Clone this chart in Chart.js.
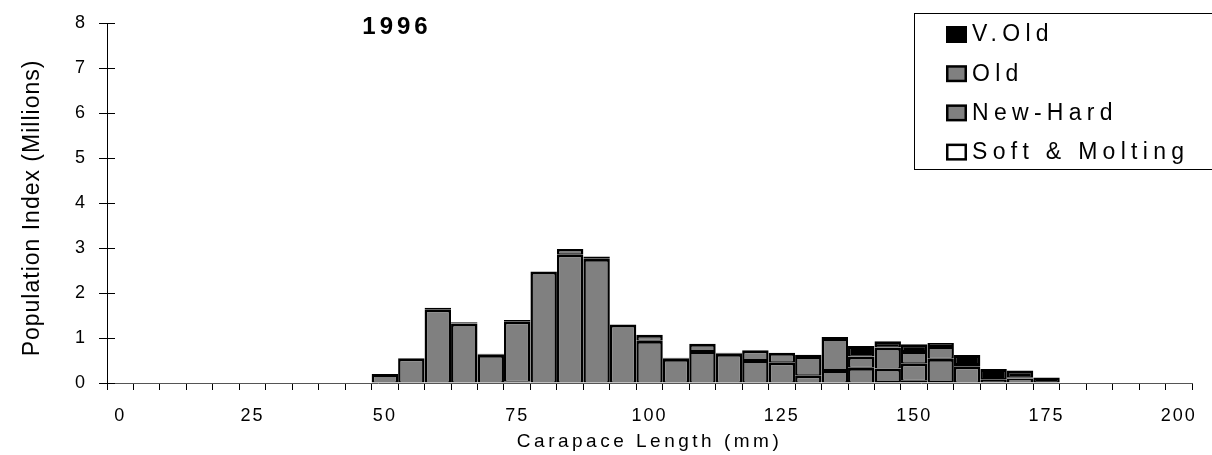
<!DOCTYPE html>
<html>
<head>
<meta charset="utf-8">
<script src="https://cdn.jsdelivr.net/npm/chart.js@4"></script>
<style>
  body { margin: 0; background: #fff; }
  canvas { display: block; }
</style>
</head>
<body>
<canvas id="mychart" width="1212" height="455"></canvas>
<script>
// 5 mm carapace length bins, 0..200
const Bins=["0","5","10","15","20","25","30","35","40","45","50","55","60","65","70","75","80","85","90","95","100",
            "105","110","115","120","125","130","135","140","145","150","155","160","165","170","175","180","185","190","195","200"]

// population index (millions) per shell condition
const SoftMolting=[0,0,0,0,0,0,0,0,0,0, 0,0,0,0,0,0.03,0,0,0,0, 0,0,0,0,0,0,0,0,0,0.02, 0.05,0.02,0,0,0,0,0,0,0,0,0]
const NewHard=[0,0,0,0,0,0,0,0,0,0, 0.2,0.55,1.64,1.32,0.63,1.34,2.48,2.86,2.76,1.3, 0.94,0.54,0.71,0.65,0.51,0.46,0.17,0.29,0.34,0.3, 0.39,0.52,0.37,0.07,0.1,0,0,0,0,0,0]
const Old=[0,0,0,0,0,0,0,0,0,0, 0,0,0.03,0.03,0.02,0.03,0,0.12,0.05,0, 0.13,0.02,0.16,0.02,0.22,0.21,0.43,0.71,0.25,0.47, 0.27,0.28,0.05,0.02,0.03,0,0,0,0,0,0]
const VOld=[0,0,0,0,0,0,0,0,0,0, 0,0,0,0,0,0,0,0,0,0, 0,0,0,0,0,0,0.03,0.02,0.23,0.14, 0.15,0.07,0.2,0.22,0.15,0.12,0,0,0,0,0]

const FONT="'Liberation Sans', Arial, sans-serif"
const barBorder={top:3,bottom:1,left:2.5,right:2.5}

function series(label,data,fill){
    return {
        label:label,
        data:data,
        backgroundColor:fill,
        borderColor:"#000",
        borderWidth:barBorder,
        borderSkipped:false,
        inflateAmount:0,
        barPercentage:1,
        categoryPercentage:1,
    }
}

// wide letter spacing on axis tick text
const spacing={
    id:"spacing",
    beforeLayout(chart){ chart.ctx.letterSpacing="2px" },
    beforeDraw(chart){ chart.ctx.letterSpacing="2px" },
}

// titles, boxed legend and inner half of the y ticks
const decorations={
    id:"decorations",
    afterDraw(chart){
        const ctx=chart.ctx
        const area=chart.chartArea
        const y=chart.scales.y
        ctx.save()

        ctx.strokeStyle="#000"
        ctx.lineWidth=1
        y.ticks.forEach(t=>{
            const py=Math.round(y.getPixelForValue(t.value))+0.5
            ctx.beginPath()
            ctx.moveTo(area.left,py)
            ctx.lineTo(area.left+8,py)
            ctx.stroke()
        })

        ctx.fillStyle="#000"
        ctx.textAlign="center"
        ctx.textBaseline="middle"

        ctx.letterSpacing="4px"
        ctx.font="bold 24px "+FONT
        ctx.fillText("1996",397,27)

        ctx.letterSpacing="3.5px"
        ctx.font="19px "+FONT
        ctx.fillText("Carapace Length (mm)",(area.left+area.right)/2,442)

        ctx.letterSpacing="1px"
        ctx.font="23px "+FONT
        ctx.save()
        ctx.translate(33,208)
        ctx.rotate(-Math.PI/2)
        ctx.fillText("Population Index (Millions)",0,0)
        ctx.restore()

        // legend box, top entry is the top of the stack
        ctx.strokeStyle="#000"
        ctx.lineWidth=1
        ctx.strokeRect(914.5,13.5,310,156)
        ctx.textAlign="left"
        ctx.letterSpacing="5.3px"
        ctx.font="23px "+FONT
        const sets=chart.data.datasets.slice().reverse()
        sets.forEach((ds,i)=>{
            const cy=34+i*39.2
            ctx.fillStyle="#000"
            ctx.fillRect(946,cy-8,21,17)
            ctx.fillStyle=ds.backgroundColor
            ctx.fillRect(948.5,cy-5.5,16,12)
            ctx.fillStyle="#000"
            ctx.fillText(ds.label,972,cy+1)
        })
        ctx.restore()
    }
}

new Chart("mychart",{
    type:"bar",
    data:{
        labels:Bins,
        datasets:[
            series("Soft & Molting",SoftMolting,"#ffffff"),
            series("New-Hard",NewHard,"#808080"),
            series("Old",Old,"#808080"),
            series("V.Old",VOld,"#000000"),
        ],
    },
    options:{
        responsive:false,
        animation:false,
        layout:{padding:{top:23,right:12,left:0,bottom:0}},
        plugins:{
            legend:{display:false},
            tooltip:{enabled:false},
        },
        scales:{
            x:{
                stacked:true,
                offset:true,
                afterFit(scale){ scale.height=72 },
                grid:{offset:true,drawOnChartArea:false,drawTicks:true,tickLength:7,color:"#000"},
                border:{display:true,color:"#555",width:1},
                ticks:{
                    autoSkip:false,
                    maxRotation:0,
                    padding:15,
                    color:"#000",
                    font:{family:FONT,size:18},
                    callback:(v,i)=>i%5===0?Bins[i]:"",
                },
            },
            y:{
                stacked:true,
                min:0,
                max:8,
                afterFit(scale){ scale.width=107 },
                grid:{drawOnChartArea:false,drawTicks:true,tickLength:8,color:"#000"},
                border:{display:true,color:"#000",width:1},
                ticks:{
                    stepSize:1,
                    padding:12,
                    color:"#000",
                    font:{family:FONT,size:18},
                },
            },
        },
    },
    plugins:[spacing,decorations],
});
</script>
</body>
</html>
